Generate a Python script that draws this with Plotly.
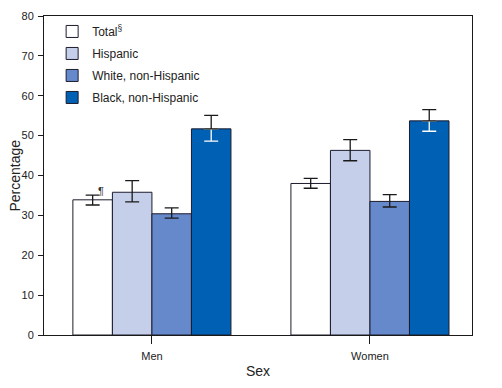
import plotly.graph_objects as go

categories = ["Men", "Women"]
series_names = ["Total<sup>§</sup>", "Hispanic", "White, non-Hispanic", "Black, non-Hispanic"]
colors = ["#ffffff", "#c6cfe9", "#6689cb", "#0060b4"]
values = [
    [33.9, 38.0],
    [35.8, 46.3],
    [30.4, 33.5],
    [51.7, 53.7],
]
ci_upper = [
    [35.1, 39.3],
    [38.7, 49.0],
    [31.9, 35.2],
    [55.1, 56.5],
]
ci_lower = [
    [32.6, 36.8],
    [33.4, 43.7],
    [29.3, 32.1],
    [48.6, 51.1],
]

fig = go.Figure()
for i, name in enumerate(series_names):
    up = [u - v for u, v in zip(ci_upper[i], values[i])]
    lo = [v - l for v, l in zip(values[i], ci_lower[i])]
    dark = i == 3
    fig.add_trace(go.Bar(
        x=categories, y=values[i], name=name, offsetgroup=str(i), legendgroup=str(i),
        marker=dict(color=colors[i], line=dict(color="#1c1c2c", width=1)),
        error_y=None if dark else dict(type="data", symmetric=False, array=up, arrayminus=lo,
                                       color="#1a1a1a", thickness=1.3, width=7),
    ))
    if dark:
        fig.add_trace(go.Bar(
            x=categories, y=values[i], offsetgroup=str(i), legendgroup=str(i),
            showlegend=False, hoverinfo="skip",
            marker=dict(color="rgba(0,0,0,0)", line=dict(width=0)),
            error_y=dict(type="data", symmetric=False, array=[0, 0], arrayminus=lo,
                         color="#ffffff", thickness=1.3, width=7),
        ))
        fig.add_trace(go.Bar(
            x=categories, y=values[i], offsetgroup=str(i), legendgroup=str(i),
            showlegend=False, hoverinfo="skip",
            marker=dict(color="rgba(0,0,0,0)", line=dict(width=0)),
            error_y=dict(type="data", symmetric=False, array=up, arrayminus=[0, 0],
                         color="#1a1a1a", thickness=1.3, width=7),
        ))

fig.add_annotation(x="Men", y=36.1, text="¶", showarrow=False, xshift=-51,
                   font=dict(size=11, color="#333333", family="Arial"))
fig.add_annotation(xref="paper", yref="paper", x=0, y=0.5, xshift=-30,
                   xanchor="center", yanchor="middle",
                   text="Percentage", textangle=-90, showarrow=False,
                   font=dict(size=14, color="#222222"))

# the page body has an 8px margin, so the figure is drawn offset by (8, 8)
fig.update_layout(
    width=502, height=388,
    margin=dict(l=36, r=38, t=8, b=61, autoexpand=False),
    barmode="group", bargap=0.275, bargroupgap=0,
    plot_bgcolor="white", paper_bgcolor="white",
    font=dict(family="Arial, Liberation Sans, sans-serif", color="#222222", size=11),
    showlegend=True,
    legend=dict(x=0.019, y=0.997, xanchor="left", yanchor="top",
                bgcolor="rgba(0,0,0,0)", font=dict(size=12, color="#222222"),
                traceorder="grouped", tracegroupgap=3, itemwidth=30),
    xaxis=dict(range=[-0.495, 1.468], showline=True, linecolor="#1a1a1a", linewidth=1,
               mirror=True, ticks="outside", ticklen=8, tickcolor="#1a1a1a",
               automargin=False, ticklabelstandoff=3,
               title=dict(text="Sex", font=dict(size=14), standoff=4),
               tickfont=dict(size=11)),
    yaxis=dict(range=[0, 80], dtick=10, showline=True, linecolor="#1a1a1a", linewidth=1,
               mirror=True, ticks="outside", ticklen=5, tickcolor="#1a1a1a",
               showgrid=False, zeroline=False, automargin=False, ticklabelstandoff=2,
               tickfont=dict(size=11)),
)

fig.write_html("out.html")
